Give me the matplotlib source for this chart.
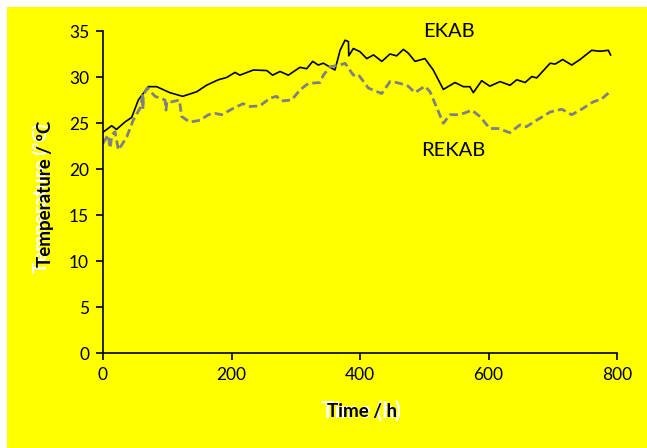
import matplotlib
matplotlib.use("Agg")
import matplotlib.pyplot as plt
from matplotlib.patches import Rectangle

# EKAB (solid black)
ekab_t = [0, 13.5, 21, 34, 44.6, 55, 70.5, 83.5, 104, 124, 146, 161, 179.5, 192.5,
          205.5, 213, 234, 255, 264, 275.5, 288.5, 306.5, 317, 326.4, 335, 343, 361,
          369, 376.7, 382, 382.5, 389.6, 400, 410.5, 421, 434, 446.7, 457, 467.5, 475,
          485.6, 501, 514, 529.7, 547.9, 560.8, 571, 576.4, 589.4, 602, 618, 633.5,
          644, 657, 667.4, 675, 696, 703.6, 715.5, 729.5, 742.5, 760.6, 773.5, 786.5, 790]
ekab_T = [24.0, 24.7, 24.3, 25.1, 25.6, 27.5, 28.95, 28.95, 28.3, 27.9, 28.4, 29.1, 29.7, 29.95,
          30.5, 30.2, 30.76, 30.7, 30.2, 30.6, 30.2, 31.05, 30.9, 31.7, 31.3, 31.5, 30.76,
          32.9, 34.0, 33.85, 32.3, 33.1, 32.75, 32.0, 32.4, 31.7, 32.5, 32.3, 33.0, 32.6,
          31.7, 32.0, 30.76, 28.65, 29.4, 28.95, 28.95, 28.3, 29.6, 29.0, 29.5, 29.1,
          29.7, 29.4, 30.05, 29.9, 31.5, 31.4, 31.9, 31.3, 31.9, 32.9, 32.8, 32.9, 32.4]

# REKAB (grey dashed)
rekab_t = [0, 8, 11, 14, 18.7, 24, 29, 37, 47, 57.6, 61.8, 62.2, 62.6, 69, 81, 96.5, 98,
           99.5, 107, 118.8, 122.5, 135, 151, 164, 174, 184.7, 203, 218, 229, 244, 260,
           270, 278, 293.7, 306.6, 319.6, 337.7, 343, 353, 369, 376.7, 389.6, 397, 413,
           433.7, 446.7, 457, 467.5, 475, 485.6, 501, 509, 529.7, 540, 553, 563.4, 573.9,
           586.8, 602, 615, 633.5, 649, 659, 675, 696, 714, 729.5, 745, 763, 776, 789, 791]
rekab_T = [22.8, 23.7, 22.25, 23.7, 24.05, 22.07, 22.6, 23.5, 25.3, 26.6, 28.0, 26.5, 28.0,
           28.8, 27.9, 27.5, 26.4, 27.3, 27.3, 27.5, 25.7, 25.1, 25.3, 25.9, 26.05, 25.9,
           26.6, 27.1, 26.8, 26.85, 27.7, 27.9, 27.4, 27.5, 28.6, 29.3, 29.4, 30.2, 31.1,
           31.3, 31.5, 30.2, 30.3, 28.8, 28.2, 29.5, 29.4, 29.2, 29.0, 28.3, 29.0, 28.4,
           24.97, 25.9, 25.9, 26.1, 26.4, 25.7, 24.4, 24.4, 23.95, 24.8, 24.6, 25.3, 26.2,
           26.5, 25.9, 26.5, 27.3, 27.6, 28.4, 28.2]

x_ticks = [0, 200, 400, 600, 800]
y_ticks = [0, 5, 10, 15, 20, 25, 30, 35]

plt.rcParams['font.family'] = ['Lato', 'DejaVu Sans']

fig = plt.figure(figsize=(6.47, 4.48), dpi=100, facecolor='white')
# yellow chart area (thin white strip at left and top)
fig.add_artist(Rectangle((7 / 647, 0), 1, 1 - 7 / 448, transform=fig.transFigure,
                         facecolor='#FFFF00', edgecolor='none', zorder=-10))

ax = fig.add_axes([103 / 647, 1 - 353 / 448, 514 / 647, 322 / 448])
ax.patch.set_alpha(0)

ax.plot(ekab_t, ekab_T, color='black', lw=1.2)
ax.plot(rekab_t, rekab_T, color='#808080', lw=2.0, ls=(0, (3, 1.5)))

ax.set_xlim(0, 800)
ax.set_ylim(0, 35)
ax.set_xticks(x_ticks)
ax.set_yticks(y_ticks)
ax.tick_params(labelsize=12.5, length=5, width=1.2, pad=5, colors='black')
for s in ['top', 'right']:
    ax.spines[s].set_visible(False)
for s in ['left', 'bottom']:
    ax.spines[s].set_linewidth(1.2)

ax.text(538, 34.9, 'EKAB', fontsize=14.5, ha='center', va='center')
ax.text(545, 22.0, 'REKAB', fontsize=14.5, ha='center', va='center')

# axis titles (white ghost text behind the bold black one)
fig.text(361 / 647, 1 - 411 / 448, 'Time (h)', fontsize=16, fontweight='bold',
         color='white', ha='center', va='center')
fig.text(362 / 647, 1 - 411 / 448, 'Time / h', fontsize=13.5, fontweight='bold',
         color='black', ha='center', va='center')
fig.text(41 / 647, 1 - 198 / 448, 'Temperature (ºC)', fontsize=14, fontweight='bold',
         color='white', ha='center', va='center', rotation=90)
fig.text(46 / 647, 1 - 194 / 448, 'Temperature / ºC', fontsize=13.5, fontweight='bold',
         color='black', ha='center', va='center', rotation=90)

fig.savefig('out.png', dpi=100)
